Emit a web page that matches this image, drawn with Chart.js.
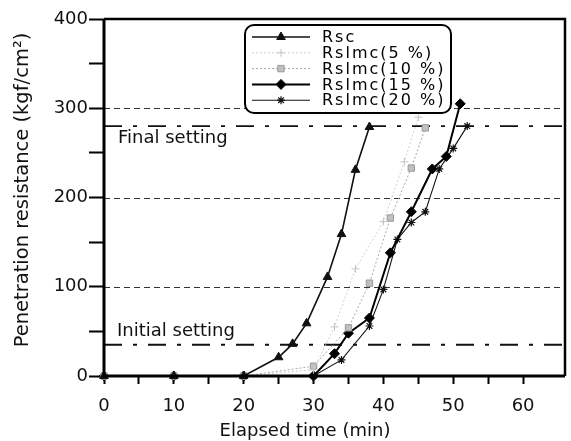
<!DOCTYPE html>
<html>
<head>
<meta charset="utf-8">
<script src="https://cdn.jsdelivr.net/npm/chart.js@4/dist/chart.umd.min.js"></script>
<style>
  html, body { margin: 0; padding: 0; background: #fff; overflow: hidden; }
  canvas { display: block; }
</style>
</head>
<body>
<canvas id="c" width="571" height="441"></canvas>
<script>
// Penetration resistance vs elapsed time
const seriesLabels = ['Rsc', 'Rslmc(5 %)', 'Rslmc(10 %)', 'Rslmc(15 %)', 'Rslmc(20 %)'];

const timeRsc = [0, 10, 20, 25, 27, 29, 32, 34, 36, 38];
const resRsc  = [0, 0, 0, 21, 36, 59, 111, 159, 231, 279];

const time5 = [0, 10, 20, 30, 33, 36, 40, 43, 45];
const res5  = [0, 0, 0, 7, 55, 120, 173, 240, 290];

const time10 = [0, 10, 20, 30, 35, 38, 41, 44, 46];
const res10  = [0, 0, 0, 11, 54, 104, 177, 233, 278];

const time15 = [0, 10, 20, 30, 33, 35, 38, 41, 44, 47, 49, 51];
const res15  = [0, 0, 0, 0, 25, 48, 65, 138, 184, 232, 246, 305];

const time20 = [0, 10, 20, 30, 34, 38, 40, 42, 44, 46, 48, 50, 52];
const res20  = [0, 0, 0, 0, 18, 56, 97, 153, 172, 184, 232, 255, 280];

const xTickValues = [0, 5, 10, 15, 20, 25, 30, 35, 40, 45, 50, 55, 60];
const xTickLabels = ['0', '', '10', '', '20', '', '30', '', '40', '', '50', '', '60'];
const yTickValues = [0, 50, 100, 150, 200, 250, 300, 350, 400];
const yTickLabels = ['0', '', '100', '', '200', '', '300', '', '400'];

const gridLevels = [100, 200, 300];
const settingLevels = [35, 280];
const settingLabels = ['Initial setting', 'Final setting'];

const xTitle = 'Elapsed time (min)';
const yTitle = 'Penetration resistance (kgf/cm\u00B2)';

const FONT = '"DejaVu Sans", "Liberation Sans", sans-serif';

function pts(xs, ys) { return xs.map((t, i) => ({ x: t, y: ys[i] })); }

const datasets = [
  { label: seriesLabels[0], data: pts(timeRsc, resRsc),
    borderColor: '#111', borderWidth: 1.6, pointStyle: 'triangle', pointRadius: 5,
    pointBackgroundColor: '#111', pointBorderColor: '#111', pointBorderWidth: 1 },
  { label: seriesLabels[1], data: pts(time5, res5),
    borderColor: '#cfcfcf', borderWidth: 1, borderDash: [2, 2], pointStyle: 'cross', pointRadius: 4,
    pointBackgroundColor: '#c4c4c4', pointBorderColor: '#c4c4c4', pointBorderWidth: 1 },
  { label: seriesLabels[2], data: pts(time10, res10),
    borderColor: '#a8a8a8', borderWidth: 1, borderDash: [2, 2], pointStyle: 'rect', pointRadius: 4.5,
    pointBackgroundColor: '#c0c0c0', pointBorderColor: '#9a9a9a', pointBorderWidth: 1 },
  { label: seriesLabels[3], data: pts(time15, res15),
    borderColor: '#000', borderWidth: 2, pointStyle: 'rectRot', pointRadius: 5,
    pointBackgroundColor: '#000', pointBorderColor: '#000', pointBorderWidth: 1 },
  { label: seriesLabels[4], data: pts(time20, res20),
    borderColor: '#111', borderWidth: 1.1, pointStyle: 'star', pointRadius: 4,
    pointBackgroundColor: '#111', pointBorderColor: '#111', pointBorderWidth: 1.2 }
].map(d => Object.assign(d, { fill: false, tension: 0, clip: false, pointHoverRadius: d.pointRadius }));

function marker(ctx, ds, x, y) {
  ctx.save();
  ctx.fillStyle = ds.pointBackgroundColor;
  ctx.strokeStyle = ds.pointBorderColor;
  ctx.lineWidth = ds.pointBorderWidth;
  Chart.helpers.drawPoint(ctx, {
    pointStyle: ds.pointStyle, radius: ds.pointRadius, rotation: 0, borderWidth: ds.pointBorderWidth
  }, x, y);
  ctx.restore();
}

const decor = {
  id: 'decor',
  beforeDatasetsDraw(chart) {
    const { ctx, chartArea: a, scales: { x, y } } = chart;
    ctx.save();
    // dashed reference lines
    ctx.strokeStyle = '#333';
    ctx.lineWidth = 1;
    ctx.setLineDash([6, 4]);
    gridLevels.forEach(v => {
      const py = Math.round(y.getPixelForValue(v)) + 0.5;
      ctx.beginPath(); ctx.moveTo(a.left, py); ctx.lineTo(a.right, py); ctx.stroke();
    });
    // setting lines (dash-dot)
    ctx.strokeStyle = '#111';
    ctx.lineWidth = 1.8;
    ctx.setLineDash([18, 11, 4, 11]);
    settingLevels.forEach(v => {
      const py = y.getPixelForValue(v);
      ctx.beginPath(); ctx.moveTo(a.left, py); ctx.lineTo(a.right, py); ctx.stroke();
    });
    ctx.setLineDash([]);
    ctx.fillStyle = '#111';
    ctx.font = '18px ' + FONT;
    ctx.textAlign = 'left';
    ctx.textBaseline = 'middle';
    ctx.fillText(settingLabels[0], a.left + 13, y.getPixelForValue(settingLevels[0]) - 13);
    ctx.fillText(settingLabels[1], a.left + 14, y.getPixelForValue(settingLevels[1]) + 12);
    ctx.restore();
  },
  afterDatasetsDraw(chart) {
    const { ctx, chartArea: a } = chart;
    ctx.save();
    // plot frame
    ctx.strokeStyle = '#000';
    ctx.lineWidth = 3;
    ctx.beginPath();
    ctx.moveTo(a.left, a.top); ctx.lineTo(a.left, a.bottom); ctx.lineTo(a.right, a.bottom);
    ctx.stroke();
    ctx.lineWidth = 2.5;
    ctx.beginPath();
    ctx.moveTo(a.left, a.top); ctx.lineTo(a.right, a.top); ctx.lineTo(a.right, a.bottom);
    ctx.stroke();

    // legend box
    const box = { left: 245, top: 25, right: 451, bottom: 113, r: 9 };
    ctx.beginPath();
    ctx.roundRect(box.left, box.top, box.right - box.left, box.bottom - box.top, box.r);
    ctx.fillStyle = '#fff';
    ctx.fill();
    ctx.lineWidth = 2;
    ctx.strokeStyle = '#000';
    ctx.stroke();
    const rowTop = 37, rowGap = 15.8, x0 = 252, x1 = 310, tx = 322;
    chart.data.datasets.forEach((ds, i) => {
      const yy = rowTop + i * rowGap;
      ctx.save();
      ctx.strokeStyle = ds.borderColor;
      ctx.lineWidth = ds.borderWidth;
      ctx.setLineDash(ds.borderDash || []);
      ctx.beginPath(); ctx.moveTo(x0, yy); ctx.lineTo(x1, yy); ctx.stroke();
      ctx.restore();
      marker(ctx, ds, (x0 + x1) / 2, yy);
      ctx.save();
      ctx.fillStyle = '#000';
      ctx.font = '16px ' + FONT;
      ctx.letterSpacing = '2px';
      ctx.textAlign = 'left';
      ctx.textBaseline = 'middle';
      ctx.fillText(ds.label, tx, yy + 1);
      ctx.restore();
    });

    // axis titles
    ctx.fillStyle = '#111';
    ctx.textAlign = 'center';
    ctx.textBaseline = 'middle';
    ctx.font = '18px ' + FONT;
    ctx.fillText(xTitle, 305, 431);
    ctx.save();
    ctx.translate(23, 190);
    ctx.rotate(-Math.PI / 2);
    ctx.font = '19.5px ' + FONT;
    ctx.fillText(yTitle, 0, 0);
    ctx.restore();
    ctx.restore();
  }
};

new Chart(document.getElementById('c'), {
  type: 'line',
  data: { datasets },
  options: {
    responsive: false,
    animation: false,
    devicePixelRatio: 1,
    layout: { padding: { top: 19, right: 5, left: 0, bottom: 0 } },
    plugins: { legend: { display: false }, tooltip: { enabled: false } },
    scales: {
      x: {
        type: 'linear', min: 0, max: 66,
        afterBuildTicks: s => { s.ticks = xTickValues.map(v => ({ value: v })); },
        afterFit: s => { s.height = 65; },
        ticks: {
          autoSkip: false, maxRotation: 0, padding: 12,
          color: '#111', font: { family: FONT, size: 18 },
          callback: v => xTickLabels[xTickValues.indexOf(v)] ?? ''
        },
        grid: { drawOnChartArea: false, drawTicks: true, tickLength: 8, tickWidth: 2, tickColor: '#000' },
        border: { display: false }
      },
      y: {
        type: 'linear', min: 0, max: 400,
        afterBuildTicks: s => { s.ticks = yTickValues.map(v => ({ value: v })); },
        afterFit: s => { s.width = 104; },
        ticks: {
          autoSkip: false, padding: 1,
          color: '#111', font: { family: FONT, size: 18 },
          callback: v => yTickLabels[yTickValues.indexOf(v)] ?? ''
        },
        grid: { drawOnChartArea: false, drawTicks: true, tickLength: 15, tickWidth: 2, tickColor: '#000' },
        border: { display: false }
      }
    }
  },
  plugins: [decor]
});
</script>
</body>
</html>
